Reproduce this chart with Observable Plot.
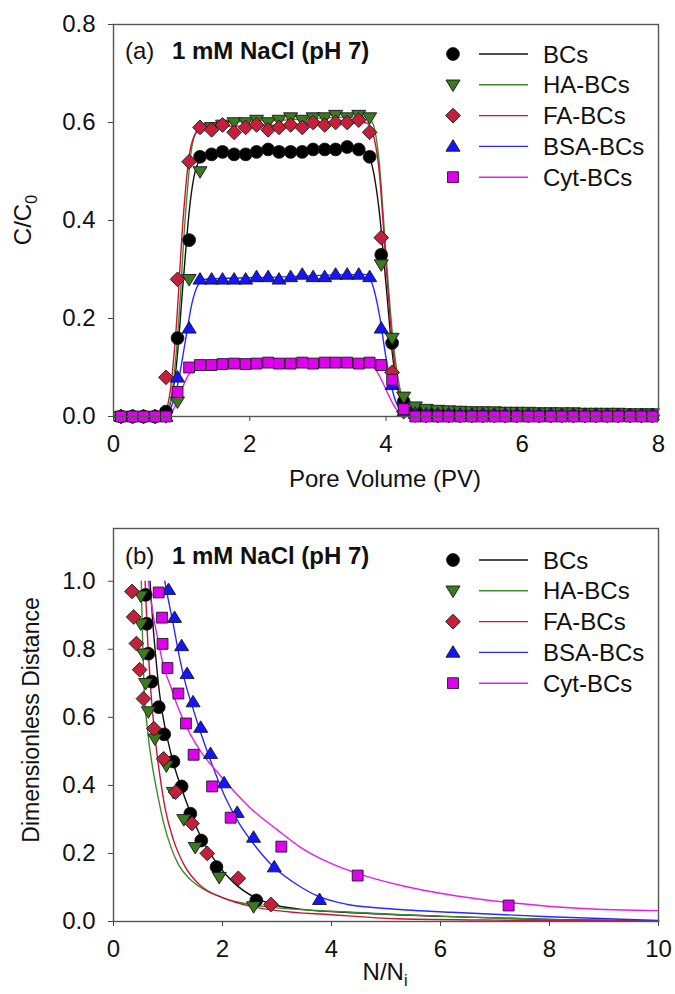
<!DOCTYPE html>
<html><head><meta charset="utf-8">
<script src="https://cdn.jsdelivr.net/npm/d3@7"></script>
<script src="https://cdn.jsdelivr.net/npm/@observablehq/plot@0.6"></script>
<style>
body{margin:0;background:#fff;}
#wrap{position:relative;width:675px;height:994px;overflow:hidden;background:#fff;}
#wrap svg{position:absolute;left:0;}
</style></head><body><div id="wrap"></div>
<script>
// ---------- categories / styling lists ----------
const seriesNames = ["BCs", "HA-BCs", "FA-BCs", "BSA-BCs", "Cyt-BCs"];
const markerFill = ["#000000", "#3b7a1f", "#c41f3b", "#1414ff", "#e000f0"];
const lineColor  = ["#111111", "#3c8c2a", "#c8143c", "#2a2aff", "#e61ee6"];
const panelTitle = "1 mM NaCl (pH 7)";
const ticksAX = [0, 2, 4, 6, 8];
const ticksAY = [0, 0.2, 0.4, 0.6, 0.8];
const ticksBX = [0, 2, 4, 6, 8, 10];
const ticksBY = [0, 0.2, 0.4, 0.6, 0.8, 1.0];

// ---------- panel (a): breakthrough curves ----------
const pvA = [0.11,0.28,0.44,0.61,0.77,0.94,1.11,1.27,1.44,1.60,1.77,1.94,2.10,2.27,2.43,2.60,2.77,2.93,3.10,3.26,3.43,3.60,3.76,3.93,4.09,4.26,4.43,4.59,4.76,4.92,5.09,5.26,5.42,5.59,5.75,5.92,6.09,6.25,6.42,6.58,6.75,6.92,7.08,7.25,7.41,7.58,7.75,7.91];
const bcsA = [0,0,0,0,0.01,0.16,0.36,0.53, 0.535,0.54,0.535,0.535,0.54,0.545,0.54,0.54,0.54,0.545,0.545,0.545,0.55,0.545, 0.53,0.33,0.15,0.03, 0.012,0.01,0.009,0.008,0.008,0.007,0.007,0.006,0.006,0.006,0.005,0.005,0.005,0.004,0.004,0.004,0.004,0.003,0.003,0.003,0.003,0.003];
const haA  = [0,0,0,0,0,0.03,0.28,0.50, 0.59,0.595,0.60,0.60,0.605,0.60,0.605,0.61,0.605,0.61,0.61,0.615,0.61,0.615, 0.61,0.31,0.16,0.04, 0.02,0.015,0.013,0.012,0.011,0.01,0.01,0.01,0.009,0.009,0.009,0.008,0.008,0.008,0.008,0.007,0.007,0.007,0.007,0.006,0.006,0.006];
const faA  = [0,0,0,0,0.08,0.28,0.52,0.59, 0.585,0.595,0.58,0.59,0.595,0.585,0.59,0.595,0.59,0.60,0.595,0.60,0.60,0.605, 0.58,0.365,0.09,0.01, 0.003,0.002,0.002,0.002,0.002,0.002,0.002,0.002,0.002,0.002,0.002,0.002,0.002,0.002,0.002,0.002,0.002,0.002,0.002,0.002,0.002,0.002];
const bsaA = [0,0,0,0,0,0.08,0.18,0.28, 0.28,0.28,0.28,0.28,0.285,0.285,0.28,0.285,0.29,0.285,0.285,0.29,0.29,0.29, 0.285,0.18,0.065,0.01, 0.006,0.005,0.005,0.005,0.004,0.004,0.004,0.004,0.004,0.004,0.004,0.004,0.003,0.003,0.003,0.003,0.003,0.003,0.003,0.003,0.003,0.003];
const cytA = [0,0,0,0,0,0.05,0.10,0.105, 0.105,0.107,0.108,0.107,0.108,0.11,0.108,0.108,0.11,0.108,0.11,0.11,0.11,0.108, 0.11,0.105,0.075,0.015, 0,0,0,0,0,0,0,0,0,0,0,0,0,0,0,0,0,0,0,0,0,0];

const fitBCsA = [[0,0],[0.72,0],[0.82,0.02],[0.92,0.1],[1.02,0.27],[1.12,0.43],[1.22,0.51],[1.32,0.53],[1.5,0.535],[2.5,0.54],[3.6,0.545],[3.7,0.54],[3.8,0.51],[3.9,0.42],[4.0,0.27],[4.1,0.12],[4.2,0.04],[4.3,0.012],[5,0.005],[8,0.003]];
const fitHAA  = [[0,0],[0.75,0],[0.85,0.04],[0.95,0.18],[1.05,0.40],[1.15,0.55],[1.25,0.59],[1.35,0.598],[2.5,0.605],[3.7,0.612],[3.8,0.6],[3.9,0.52],[4.0,0.33],[4.1,0.16],[4.2,0.06],[4.3,0.02],[4.5,0.012],[6,0.008],[8,0.006]];
const fitFAA  = [[0,0],[0.72,0],[0.82,0.04],[0.92,0.18],[1.02,0.40],[1.12,0.54],[1.22,0.58],[1.35,0.59],[2.5,0.595],[3.7,0.6],[3.8,0.58],[3.9,0.5],[4.0,0.31],[4.1,0.14],[4.2,0.045],[4.3,0.012],[5,0.003],[8,0.002]];
const fitBSAA = [[0,0],[0.75,0],[0.85,0.02],[0.95,0.07],[1.05,0.15],[1.15,0.23],[1.25,0.27],[1.35,0.28],[2.5,0.285],[3.7,0.29],[3.8,0.27],[3.9,0.21],[4.0,0.12],[4.1,0.05],[4.2,0.015],[4.3,0.006],[5,0.004],[8,0.003]];
const fitCytA = [[0,0],[0.8,0],[0.9,0.02],[1.0,0.055],[1.1,0.085],[1.2,0.1],[1.3,0.105],[2.5,0.108],[3.75,0.108],[3.85,0.095],[3.95,0.07],[4.05,0.04],[4.15,0.015],[4.25,0.004],[4.4,0],[8,0]];

// ---------- panel (b): retention profiles ----------
const bcsBx = [0.59,0.61,0.64,0.70,0.83,0.93,1.10,1.25,1.41,1.61,1.89,2.62];
const bcsBy = [0.96,0.875,0.787,0.705,0.63,0.55,0.47,0.397,0.317,0.238,0.16,0.062];
const haBx  = [0.50,0.50,0.55,0.59,0.64,0.76,0.97,1.10,1.29,1.50,1.94,2.57];
const haBy  = [0.957,0.875,0.787,0.70,0.617,0.537,0.458,0.38,0.30,0.218,0.13,0.044];
const faBx  = [0.34,0.37,0.42,0.48,0.55,0.74,0.92,1.14,1.44,1.72,2.29,2.89];
const faBy  = [0.97,0.895,0.817,0.74,0.655,0.567,0.478,0.38,0.288,0.2,0.127,0.05];
const bsaBx = [1.01,1.12,1.25,1.35,1.46,1.60,1.78,2.03,2.27,2.57,2.95,3.78];
const bsaBy = [0.975,0.893,0.81,0.728,0.645,0.57,0.493,0.407,0.32,0.247,0.16,0.064];
const cytBx = [0.83,0.89,0.90,0.99,1.19,1.33,1.47,1.81,2.15,3.08,4.48,7.25];
const cytBy = [0.967,0.893,0.816,0.745,0.67,0.582,0.49,0.397,0.305,0.22,0.135,0.047];

const fitBCsB = [[0.67,1.0],[0.72,0.88],[0.78,0.77],[0.83,0.69],[0.9,0.61],[1.0,0.53],[1.1,0.465],[1.25,0.39],[1.4,0.325],[1.6,0.25],[1.9,0.17],[2.2,0.115],[2.6,0.07],[3.0,0.047],[3.5,0.035],[4.5,0.025],[6,0.015],[8,0.006],[10,0.001]];
const fitHAB  = [[0.51,1.0],[0.53,0.85],[0.56,0.69],[0.62,0.57],[0.7,0.47],[0.8,0.38],[0.92,0.29],[1.05,0.22],[1.2,0.165],[1.4,0.125],[1.6,0.1],[2.0,0.07],[2.5,0.05],[3.0,0.04],[4.0,0.03],[5.3,0.02],[6.5,0.013],[8,0.006],[10,0.002]];
const fitFAB  = [[0.58,1.0],[0.62,0.85],[0.68,0.69],[0.75,0.56],[0.85,0.43],[0.95,0.33],[1.1,0.24],[1.3,0.165],[1.6,0.105],[2.0,0.07],[2.5,0.045],[3.0,0.032],[4.0,0.02],[5.2,0.008],[7.0,0.004],[10,0.002]];
const fitBSAB = [[0.94,1.0],[1.0,0.95],[1.1,0.87],[1.2,0.785],[1.32,0.70],[1.45,0.63],[1.6,0.555],[1.8,0.465],[2.05,0.365],[2.3,0.29],[2.6,0.222],[2.94,0.16],[3.4,0.105],[3.74,0.075],[4.3,0.05],[5.0,0.038],[6.2,0.027],[8,0.014],[10,0.003]];
const fitCytB = [[0.64,1.0],[0.7,0.93],[0.8,0.84],[0.92,0.75],[1.05,0.69],[1.17,0.635],[1.41,0.55],[1.6,0.50],[1.9,0.44],[2.2,0.385],[2.5,0.335],[3.0,0.27],[3.43,0.218],[4.0,0.17],[4.5,0.14],[5.3,0.105],[6.3,0.075],[7.3,0.055],[8.6,0.038],[10,0.032]];

// ---------- symbols ----------
const rOf = s => Math.sqrt(s / Math.PI);
const symDown = {draw(c, s){const r=rOf(s); c.moveTo(-1.1*r,-0.75*r); c.lineTo(1.1*r,-0.75*r); c.lineTo(0,1.05*r); c.closePath();}};
const symUp   = {draw(c, s){const r=rOf(s); c.moveTo(0,-1.05*r); c.lineTo(1.1*r,0.75*r); c.lineTo(-1.1*r,0.75*r); c.closePath();}};
const symDiam = {draw(c, s){const r=rOf(s)*1.15; c.moveTo(0,-r); c.lineTo(r,0); c.lineTo(0,r); c.lineTo(-r,0); c.closePath();}};
const symSq   = {draw(c, s){const h=rOf(s)*0.85; c.moveTo(-h,-h); c.lineTo(h,-h); c.lineTo(h,h); c.lineTo(-h,h); c.closePath();}};
const symbols = [d3.symbolCircle, symDown, symDiam, symUp, symSq];

const font = "'Liberation Sans', Arial, sans-serif";
const R = 6.4;

function makePanel(cfg){
  const marks = [];
  cfg.fits.forEach((f,k)=> marks.push(Plot.line(f, {x: d=>d[0], y: d=>d[1], stroke: lineColor[k], strokeWidth: 1.4, curve: "monotone-x"})));
  cfg.obs.forEach((o,k)=> marks.push(Plot.dot(o.x.map((x,i)=>({x, y:o.y[i]})), {x:"x", y:"y", symbol: symbols[k], r: R, fill: markerFill[k], stroke:"#1a1a1a", strokeWidth: 0.9})));
  marks.push(Plot.frame({stroke:"#555", strokeWidth:1.4}));
  marks.push(Plot.axisX({ticks: cfg.xTicks, tickSize:5, tickPadding:13, label:null, tickFormat: d3.format("d"), stroke:"#444"}));
  marks.push(Plot.axisY({ticks: cfg.yTicks, tickSize:5, tickPadding:13, label:null, tickFormat: d3.format(".1f"), stroke:"#444"}));
  return Plot.plot({
    width: 675, height: 497,
    marginLeft: 113, marginRight: 17, marginTop: cfg.mt, marginBottom: cfg.mb,
    x: {domain: cfg.xDomain}, y: {domain: cfg.yDomain},
    style: {fontFamily: font, fontSize: "24px", color: "#111", background: "transparent"},
    marks
  });
}

const wrap = document.getElementById("wrap");
const pA = makePanel({
  xDomain:[0,8], yDomain:[0,0.8], xTicks: ticksAX, yTicks: ticksAY, mt: 24, mb: 81,
  fits: [fitBCsA, fitHAA, fitFAA, fitBSAA, fitCytA],
  obs: [bcsA, haA, faA, bsaA, cytA].map(y => ({x: pvA, y}))
});
pA.style.top = "0px";
wrap.appendChild(pA);

const pB = makePanel({
  xDomain:[0,10], yDomain:[0,1.155], xTicks: ticksBX, yTicks: ticksBY, mt: 31, mb: 73,
  fits: [fitBCsB, fitHAB, fitFAB, fitBSAB, fitCytB],
  obs: [{x:bcsBx,y:bcsBy},{x:haBx,y:haBy},{x:faBx,y:faBy},{x:bsaBx,y:bsaBy},{x:cytBx,y:cytBy}]
});
pB.style.top = "497px";
wrap.appendChild(pB);

// ---------- overlay: titles, axis labels, legends ----------
const ov = d3.select(wrap).append("svg").attr("width",675).attr("height",994)
  .style("top","0px").style("font-family", font).style("pointer-events","none");

function txt(x, y, s, opts={}){
  const t = ov.append("text").attr("x",x).attr("y",y).attr("font-size", opts.size||24)
    .attr("fill","#111").attr("text-anchor", opts.anchor||"start").text(s);
  if (opts.bold) t.attr("font-weight","bold");
  return t;
}
// panel labels
txt(125, 59, "(a)"); txt(172, 59, panelTitle, {bold:true, size:24});
txt(125, 564, "(b)"); txt(172, 564, panelTitle, {bold:true, size:24});

// axis titles
ov.append("text").attr("x",385).attr("y",487).attr("font-size",24).attr("text-anchor","middle").attr("fill","#111").text("Pore Volume (PV)");
const xb = ov.append("text").attr("x",385).attr("y",980).attr("font-size",24).attr("text-anchor","middle").attr("fill","#111");
xb.append("tspan").text("N/N");
xb.append("tspan").attr("font-size",16).attr("dy",6).text("i");
const ya = ov.append("text").attr("transform","translate(31,220) rotate(-90)").attr("font-size",24).attr("text-anchor","middle").attr("fill","#111");
ya.append("tspan").text("C/C");
ya.append("tspan").attr("font-size",16).attr("dy",6).text("0");
ov.append("text").attr("transform","translate(39,720) rotate(-90)").attr("font-size",23).attr("text-anchor","middle").attr("fill","#111").text("Dimensionless Distance");

// legends
function legend(y0){
  seriesNames.forEach((s,k)=>{
    const y = y0 + k*30.8;
    ov.append("path").attr("d", d3.symbol().type(symbols[k]).size(R*R*Math.PI)())
      .attr("transform",`translate(453,${y})`).attr("fill", markerFill[k]).attr("stroke","#1a1a1a").attr("stroke-width",0.9);
    ov.append("line").attr("x1",479).attr("x2",528).attr("y1",y).attr("y2",y).attr("stroke",lineColor[k]).attr("stroke-width",1.4);
    txt(543, y+8.5, s);
  });
}
legend(54);
legend(560);
</script>
</body></html>
